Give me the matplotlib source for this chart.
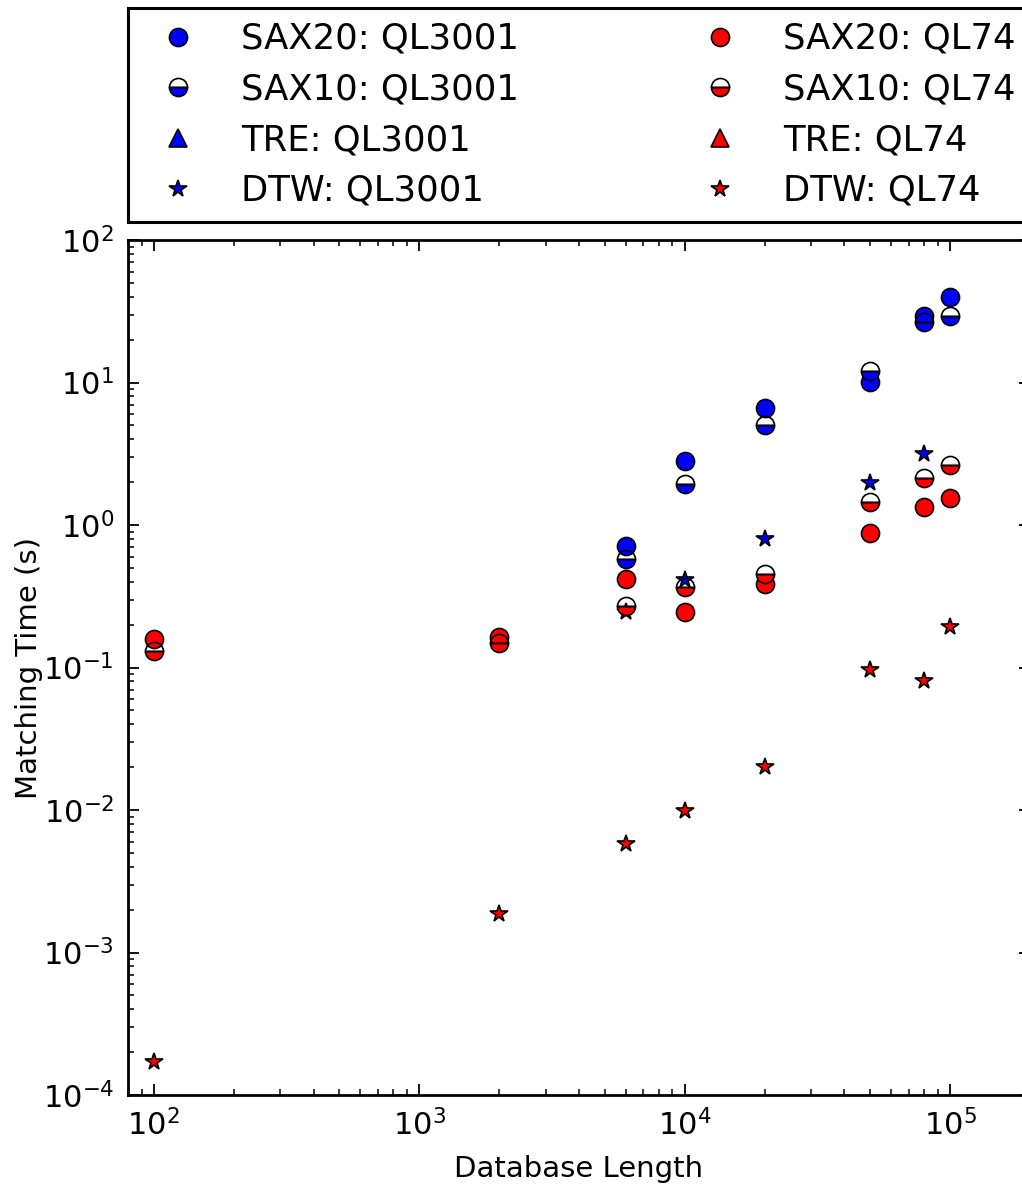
import matplotlib
matplotlib.use("Agg")
import matplotlib.pyplot as plt
from matplotlib.ticker import NullFormatter

plt.rcParams['font.family'] = 'DejaVu Sans'
plt.rcParams['axes.unicode_minus'] = False
plt.rcParams['mathtext.fontset'] = 'dejavusans'
plt.rcParams['xtick.labelsize'] = 22
plt.rcParams['ytick.labelsize'] = 22

# database lengths
x_ql3001 = [6000, 10000, 20000, 50000, 80000, 100000]
x_dtw_ql3001 = [6000, 10000, 20000, 50000, 80000]
x_ql74 = [100, 2000, 6000, 10000, 20000, 50000, 80000, 100000]

# matching times (s), query length 3001
sax20_ql3001 = [0.71, 2.83, 6.6, 10.1, 29.3, 39.8]
sax10_ql3001 = [0.58, 1.94, 5.03, 12.1, 26.6, 29.3]
tre_ql3001 = []
dtw_ql3001 = [0.245, 0.41, 0.80, 1.98, 3.15]

# matching times (s), query length 74
sax20_ql74 = [0.158, 0.164, 0.42, 0.247, 0.385, 0.88, 1.33, 1.56]
sax10_ql74 = [0.131, 0.149, 0.27, 0.366, 0.453, 1.46, 2.13, 2.64]
tre_ql74 = []
dtw_ql74 = [0.000171, 0.00186, 0.00577, 0.00985, 0.020, 0.096, 0.0803, 0.192]

fig = plt.figure(figsize=(10.22, 11.86), dpi=100)
ax = fig.add_axes([0.1252, 0.0767, 0.8826, 0.7209])

ms = 13
common = dict(linestyle='none', markeredgecolor='k', markeredgewidth=1.2)

ax.plot(x_ql3001, sax20_ql3001, 'o', color='b', markersize=ms, label='SAX20: QL3001', **common)
ax.plot(x_ql3001, sax10_ql3001, 'o', color='b', markersize=ms, fillstyle='bottom',
        markerfacecoloralt='none', label='SAX10: QL3001', **common)
ax.plot(tre_ql3001, tre_ql3001, '^', color='b', markersize=ms, label='TRE: QL3001', **common)
ax.plot(x_dtw_ql3001, dtw_ql3001, '*', color='b', markersize=ms, label='DTW: QL3001', **common)

ax.plot(x_ql74, sax20_ql74, 'o', color='r', markersize=ms, label='SAX20: QL74', **common)
ax.plot(x_ql74, sax10_ql74, 'o', color='r', markersize=ms, fillstyle='bottom',
        markerfacecoloralt='none', label='SAX10: QL74', **common)
ax.plot(tre_ql74, tre_ql74, '^', color='r', markersize=ms, label='TRE: QL74', **common)
ax.plot(x_ql74, dtw_ql74, '*', color='r', markersize=ms, label='DTW: QL74', **common)

ax.set_xscale('log')
ax.set_yscale('log')
ax.set_xlim(80, 2e5)
ax.set_ylim(1e-4, 1e2)
ax.xaxis.set_minor_formatter(NullFormatter())
ax.yaxis.set_minor_formatter(NullFormatter())

for s in ax.spines.values():
    s.set_linewidth(2)
ax.tick_params(which='both', direction='in', top=True, right=True, pad=10)
ax.tick_params(which='major', length=8, width=1.3)
ax.tick_params(which='minor', length=4.5, width=1.1)

ax.set_xlabel('Database Length', fontsize=21, labelpad=10)
ax.set_ylabel('Matching Time (s)', fontsize=21, labelpad=0)

leg = ax.legend(loc='lower left', bbox_to_anchor=(0., 1.021, 1., 0.), mode='expand',
                ncol=2, numpoints=1, fontsize=25.5, borderpad=0.4, labelspacing=0.47,
                handlelength=2.0, handletextpad=0.8, fancybox=False, framealpha=1,
                borderaxespad=0.)
leg.get_frame().set_edgecolor('k')
leg.get_frame().set_linewidth(2.2)

fig.savefig('out.png', dpi=100)
